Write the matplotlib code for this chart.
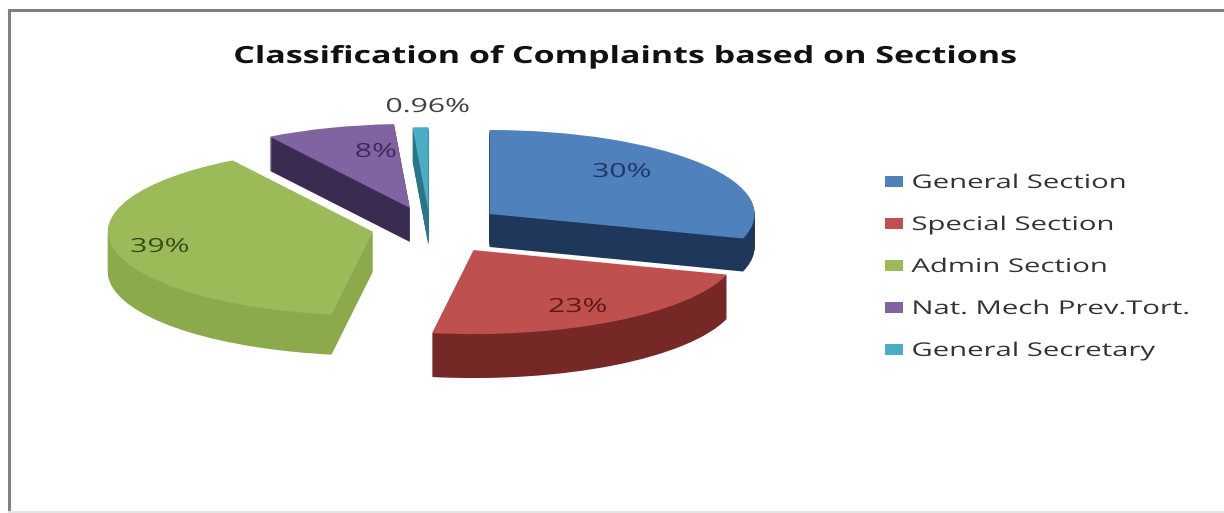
import matplotlib.pyplot as plt
from matplotlib.lines import Line2D
from matplotlib.patheffects import AbstractPathEffect
from matplotlib.transforms import Affine2D

# Complaint share per section (percent)
sections = ['General Section', 'Special Section', 'Admin Section',
            'Nat. Mech Prev.Tort.', 'General Secretary']
shares = [30, 23, 39, 8, 0.96]
share_labels = ['30%', '23%', '39%', '8%', '0.96%']

top_colors = ['#4F81BD', '#C0504D', '#9BBB59', '#8064A2', '#4BACC6']
side_colors = ['#1E375A', '#762826', '#8AAA4B', '#3A2C50', '#2A7688']
text_colors = ['#1F3864', '#5A1A18', '#3C4A1E', '#3C2A5A', '#404040']
explode = [0.28, 0.31, 0.22, 0.25, 0.2]

# screen geometry of the tilted pie, in pixels
W, H = 1224, 513
cx, cy = 430, 228           # centre of the top face
rx, ry = 265, 84            # semi-axes of the top face
depths = [33, 44, 40, 34, 34]   # thickness per slice (front looks thicker)


class WideText(AbstractPathEffect):
    """Draw text glyphs widened horizontally about the text anchor."""

    def __init__(self, artist, sx):
        super().__init__()
        self.artist = artist
        self.sx = sx

    def draw_path(self, renderer, gc, tpath, affine, rgbFace=None):
        x0 = self.artist.get_transform().transform(self.artist.get_position())[0]
        widen = Affine2D().translate(-x0, 0).scale(self.sx, 1).translate(x0, 0)
        renderer.draw_path(gc, tpath, affine + widen, rgbFace)


def wide(t, sx):
    t.set_path_effects([WideText(t, sx)])
    return t


fig = plt.figure(figsize=(W / 100, H / 100), dpi=100)
ax = fig.add_axes([0, 0, 1, 1])


def to_data(px, py):
    return (px - cx) / rx, (cy - py) / ry


# extrude the pie by stacking darker copies from the bottom up
for step in range(max(depths), 0, -1):
    layer_colors = [c if step <= d else 'none' for c, d in zip(side_colors, depths)]
    ax.pie(shares, explode=explode, colors=layer_colors, startangle=90,
           counterclock=False, center=(0, -step / ry), radius=1,
           wedgeprops=dict(linewidth=0))

wedges, _ = ax.pie(shares, explode=explode, colors=top_colors, startangle=90,
                   counterclock=False, center=(0, 0), radius=1,
                   wedgeprops=dict(linewidth=0))

ax.set_aspect('auto')
ax.set_xlim(-cx / rx, (W - cx) / rx)
ax.set_ylim((cy - H) / ry, cy / ry)
ax.axis('off')

# percentage labels
label_px = [(622, 172), (578, 307), (160, 247), (376, 152), (428, 107)]
for lab, (px, py), col in zip(share_labels, label_px, text_colors):
    x, y = to_data(px, py)
    wide(ax.text(x, y, lab, ha='center', va='center', fontsize=14,
                 family='Open Sans', color=col), 1.55)

wide(fig.text(625 / W, 1 - 57 / H, 'Classification of Complaints based on Sections',
              ha='center', va='center', fontsize=17, fontweight='bold',
              family='Open Sans', color='#111111'), 1.44)

leg = fig.legend(wedges, sections, loc='upper left',
                 bbox_to_anchor=(868 / W, 1 - 157 / H), frameon=False,
                 prop={'family': 'Open Sans', 'size': 13.6},
                 handlelength=0.95, handleheight=0.48, handletextpad=0.45,
                 labelspacing=1.27, labelcolor='#333333')
for t in leg.get_texts():
    wide(t, 1.55)

# chart area border
fig.add_artist(Line2D([9 / W, 9 / W], [0, 1 - 10 / H], transform=fig.transFigure,
                      color='#808080', linewidth=2.2))
fig.add_artist(Line2D([9 / W, 1], [1 - 10 / H, 1 - 10 / H], transform=fig.transFigure,
                      color='#808080', linewidth=2.2))
fig.add_artist(Line2D([9 / W, 1], [1.5 / H, 1.5 / H], transform=fig.transFigure,
                      color='#E4E4E4', linewidth=1.5))

fig.savefig('out.png', dpi=100)
